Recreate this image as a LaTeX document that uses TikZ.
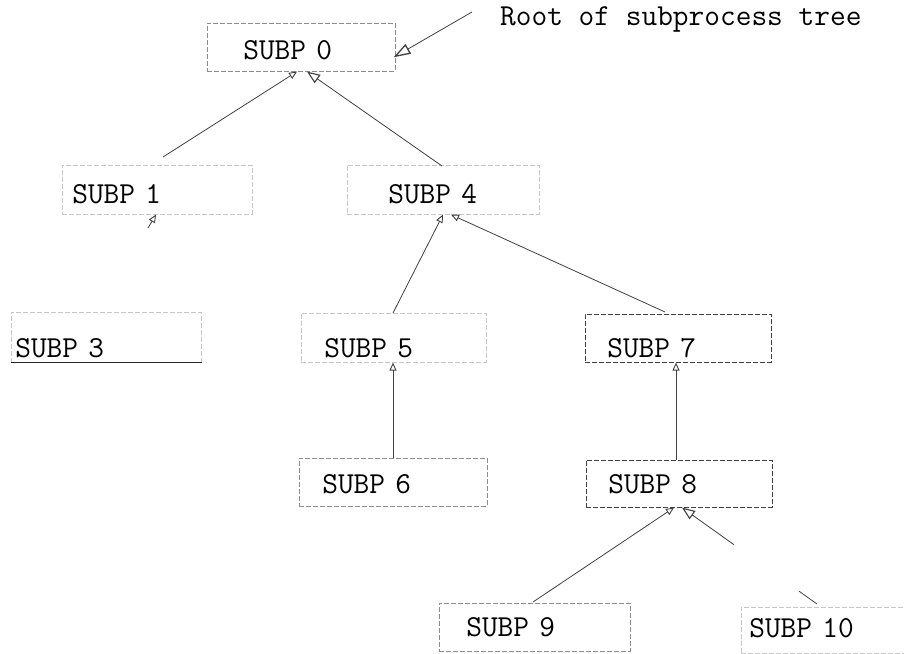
\documentclass[tikz,border=0pt]{standalone}
\usetikzlibrary{arrows.meta}
\begin{document}
\begin{tikzpicture}[x=1pt,y=-1pt,
  tt/.style={font=\fontsize{30.5}{36}\selectfont\ttfamily},
  bx/.style={tt, draw=black!45, line width=0.6pt, dash pattern=on 5pt off 2pt,
    anchor=north west, inner ysep=0pt, align=left, text depth=0pt},
  faint/.style={draw=black!22},
  dark/.style={draw=black!75},
  conn/.style={draw=black!75, line width=0.8pt},
  otip/.style={-{Triangle[open,length=13pt,width=10pt,line width=1.1pt]}},
  bigtip/.style={-{Triangle[open,length=17pt,width=11pt,line width=1.3pt]}},
  stip/.style={-{Triangle[open,length=8pt,width=7pt,line width=0.9pt]}}
]
\useasboundingbox (0,0) rectangle (904,653);

% boxes
\node[bx, minimum width=188pt, minimum height=48pt, inner xsep=36pt, text width=116pt, text height=24.6pt] (s0) at (207,23) {SUBP 0};
\node[bx, faint, minimum width=190pt, minimum height=49pt, inner xsep=10pt, text width=170pt, text height=26.6pt] (s1) at (62,165) {SUBP 1};
\node[bx, faint, minimum width=192pt, minimum height=49pt, inner xsep=41pt, text width=110pt, text height=26.6pt] (s4) at (347,165) {SUBP 4};
\node[bx, faint, minimum width=190pt, minimum height=50pt, inner xsep=4pt, text width=182pt, text height=40.6pt] (s3) at (11,312) {SUBP 3};
\node[bx, faint, minimum width=185pt, minimum height=49pt, inner xsep=23pt, text width=139pt, text height=39.6pt] (s5) at (301,313) {SUBP 5};
\node[bx, dark, minimum width=186pt, minimum height=48pt, inner xsep=22pt, text width=142pt, text height=38.6pt] (s7) at (585,314) {SUBP 7};
\node[bx, minimum width=188pt, minimum height=48pt, inner xsep=23pt, text width=142pt, text height=22.6pt] (s6) at (299,458) {SUBP 6};
\node[bx, dark, minimum width=186pt, minimum height=47pt, inner xsep=22pt, text width=142pt, text height=18.6pt] (s8) at (586,460) {SUBP 8};
\node[bx, minimum width=191pt, minimum height=48pt, inner xsep=27pt, text width=137pt, text height=18.6pt] (s9) at (439,603) {SUBP 9};
\node[bx, faint, minimum width=163pt, minimum height=46pt, inner xsep=8pt, text width=147pt, text height=18.6pt, text depth=5pt] (s10) at (741,607) {SUBP 10};
\draw[black!85, line width=1pt] (s3.south west) -- (s3.south east);

% root label
\node[tt, anchor=base west, inner sep=0pt] (root) at (500,25) {Root of subprocess tree};
\coordinate (rootc) at (472,12);
\draw[conn, bigtip] (rootc) -- ([xshift=-2pt,yshift=-10pt]s0.east);

% connectors
\draw[conn, stip] ([xshift=101pt,yshift=8pt]s1.north west) -- ([xshift=90pt]s0.south west);
\draw[conn, otip] ([xshift=95pt,yshift=-1pt]s4.north west) -- ([xshift=100pt]s0.south west);
\draw[conn, stip] ([xshift=92pt]s5.north west) -- ([xshift=96pt]s4.south west);
\draw[conn, stip] ([xshift=80pt,yshift=2pt]s7.north west) -- ([xshift=104pt]s4.south west);
\draw[conn, stip] ([xshift=94pt]s6.north west) -- ([xshift=92pt]s5.south west);
\draw[conn, stip] ([xshift=90pt]s8.north west) -- ([xshift=91pt]s7.south west);
\draw[conn, stip] ([xshift=94pt,yshift=1pt]s9.north west) -- ([xshift=88pt]s8.south west);
\draw[conn, otip, dash pattern=on 22pt off 80pt on 70pt off 0pt] ([xshift=76pt,yshift=3pt]s10.north west) -- ([xshift=96pt]s8.south west);
\coordinate (stub) at (148,228);
\draw[conn, stip] (stub) -- ([xshift=94pt]s1.south west);
\end{tikzpicture}
\end{document}
